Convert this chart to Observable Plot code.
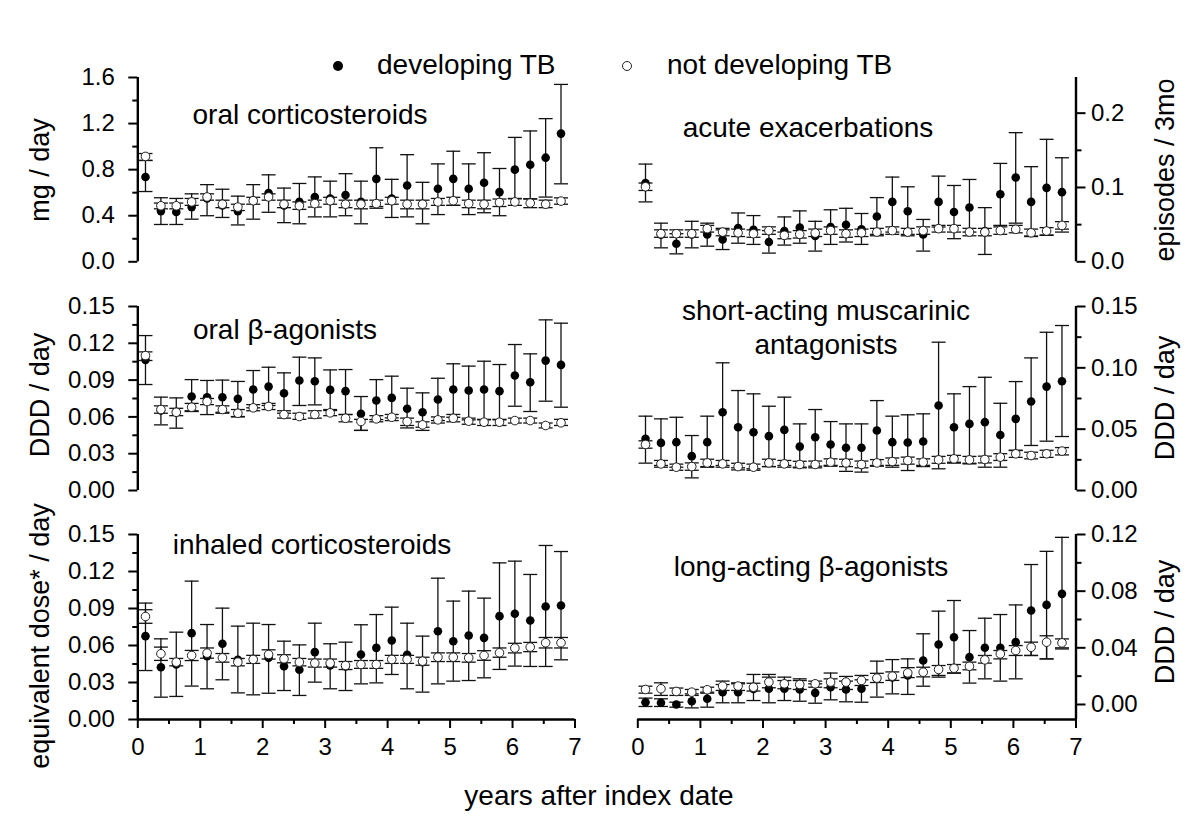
<!DOCTYPE html>
<html><head><meta charset="utf-8">
<script src="https://cdn.jsdelivr.net/npm/d3@7"></script>
<script src="https://cdn.jsdelivr.net/npm/@observablehq/plot@0.6"></script>
<style>
body{margin:0;background:#fff;}
#root{position:relative;width:1200px;height:837px;font-family:"Liberation Sans",Arial,sans-serif;color:#000;overflow:hidden;background:#fff}
.abs{position:absolute;white-space:nowrap;line-height:1}
.ttl{font-size:28px}
.ctr{transform:translateX(-50%);text-align:center}
.ylab{font-size:27px;transform:translate(-50%,-50%) rotate(-90deg)}
.pan{position:absolute}
</style></head><body><div id="root"></div><script>
// quarter (90-day) midpoints in years after index date
const xs = [0.123,0.370,0.616,0.862,1.109,1.355,1.602,1.848,2.094,2.341,2.587,2.834,3.080,3.326,3.573,3.819,4.066,4.312,4.559,4.805,5.051,5.298,5.544,5.791,6.037,6.283,6.530,6.776];
const xMajor = [0,1,2,3,4,5,6,7];
const xMinor = [0.5,1.5,2.5,3.5,4.5,5.5,6.5];

// oral corticosteroids (mg/day)
const ocsDev   = [0.736,0.44,0.432,0.475,0.55,0.49,0.44,0.53,0.597,0.49,0.52,0.563,0.55,0.58,0.52,0.72,0.55,0.663,0.50,0.634,0.72,0.634,0.686,0.605,0.80,0.843,0.904,1.113];
const ocsDevLo = [0.61,0.324,0.324,0.37,0.40,0.385,0.32,0.37,0.43,0.34,0.33,0.39,0.39,0.40,0.33,0.48,0.385,0.39,0.33,0.41,0.49,0.41,0.426,0.40,0.547,0.547,0.562,0.677];
const ocsDevHi = [0.88,0.556,0.55,0.59,0.67,0.63,0.57,0.67,0.755,0.64,0.68,0.737,0.70,0.765,0.70,0.99,0.716,0.93,0.69,0.85,0.96,0.85,0.947,0.81,1.08,1.136,1.243,1.54];
const ocsNon   = [0.915,0.486,0.486,0.52,0.563,0.50,0.475,0.53,0.563,0.50,0.486,0.505,0.53,0.50,0.50,0.505,0.53,0.50,0.50,0.52,0.53,0.505,0.50,0.515,0.52,0.51,0.50,0.527];
const ocsNonLo = [0.88,0.46,0.46,0.49,0.535,0.47,0.445,0.50,0.535,0.47,0.455,0.475,0.50,0.47,0.46,0.465,0.50,0.46,0.46,0.49,0.49,0.47,0.46,0.48,0.49,0.47,0.47,0.50];
const ocsNonHi = [0.94,0.51,0.51,0.55,0.59,0.535,0.50,0.56,0.59,0.535,0.52,0.535,0.56,0.535,0.535,0.535,0.56,0.535,0.535,0.55,0.56,0.535,0.535,0.545,0.55,0.545,0.535,0.555];

// acute exacerbations (episodes / 3mo)
const exaDev   = [0.106,0.0365,0.0243,0.0369,0.0369,0.030,0.0455,0.0432,0.0266,0.0414,0.046,0.0347,0.0468,0.0499,0.0437,0.061,0.0806,0.068,0.0369,0.0806,0.0671,0.073,0.0414,0.0909,0.1135,0.0806,0.0995,0.0937];
const exaDevLo = [0.0806,0.0188,0.0107,0.0188,0.021,0.0165,0.025,0.0234,0.0117,0.0225,0.025,0.0144,0.0234,0.0266,0.0234,0.0369,0.040,0.0369,0.0144,0.0468,0.0311,0.040,0.0099,0.049,0.052,0.0347,0.0356,0.040];
const exaDevHi = [0.1315,0.052,0.0378,0.0545,0.052,0.043,0.0657,0.0622,0.042,0.0604,0.0685,0.0545,0.070,0.072,0.065,0.0864,0.114,0.1009,0.057,0.1153,0.1027,0.1108,0.0729,0.1324,0.1738,0.128,0.1648,0.14];
const exaNon   = [0.101,0.0378,0.0378,0.0378,0.0446,0.040,0.039,0.0378,0.042,0.0356,0.037,0.0387,0.042,0.0378,0.039,0.040,0.042,0.040,0.042,0.0446,0.0446,0.040,0.040,0.042,0.0437,0.039,0.0414,0.049];
const exaNonLo = [0.096,0.033,0.033,0.033,0.040,0.035,0.034,0.033,0.037,0.031,0.032,0.034,0.037,0.033,0.034,0.035,0.037,0.035,0.037,0.040,0.040,0.035,0.035,0.037,0.039,0.034,0.036,0.044];
const exaNonHi = [0.106,0.043,0.043,0.043,0.049,0.045,0.044,0.043,0.047,0.040,0.042,0.044,0.047,0.043,0.044,0.045,0.047,0.045,0.047,0.049,0.049,0.045,0.045,0.047,0.049,0.044,0.046,0.054];

// oral beta-agonists (DDD/day)
const obaDev   = [0.1065,0.0652,0.0638,0.0766,0.076,0.076,0.0747,0.0823,0.0847,0.0793,0.0897,0.0891,0.082,0.081,0.0625,0.0734,0.0755,0.0666,0.0638,0.0742,0.0823,0.0815,0.0823,0.081,0.0937,0.0883,0.1059,0.1024];
const obaDevLo = [0.0864,0.0535,0.0508,0.0644,0.0619,0.0638,0.0603,0.0674,0.0693,0.063,0.0693,0.0698,0.0652,0.0619,0.049,0.0578,0.0592,0.053,0.0516,0.057,0.0597,0.0576,0.0576,0.0576,0.0687,0.0644,0.0728,0.0679];
const obaDevHi = [0.1263,0.0761,0.0755,0.0904,0.0897,0.090,0.0889,0.0978,0.1005,0.0959,0.1087,0.1081,0.0983,0.0986,0.0766,0.0904,0.0932,0.0834,0.0796,0.0915,0.1033,0.1014,0.1054,0.1027,0.119,0.1114,0.1391,0.1364];
const obaNon   = [0.110,0.066,0.0638,0.0679,0.0725,0.066,0.063,0.0674,0.0685,0.0619,0.0603,0.0619,0.0633,0.0589,0.0562,0.0584,0.0597,0.0562,0.0535,0.0576,0.0589,0.0565,0.0557,0.0557,0.057,0.057,0.053,0.0552];
const obaNonLo = [0.106,0.063,0.061,0.065,0.070,0.063,0.060,0.065,0.066,0.059,0.058,0.059,0.061,0.056,0.049,0.056,0.057,0.051,0.049,0.055,0.056,0.054,0.053,0.053,0.055,0.055,0.051,0.053];
const obaNonHi = [0.113,0.069,0.067,0.071,0.075,0.069,0.066,0.070,0.071,0.065,0.063,0.065,0.066,0.062,0.058,0.061,0.062,0.059,0.056,0.060,0.062,0.059,0.058,0.058,0.059,0.059,0.055,0.058];

// short-acting muscarinic antagonists (DDD/day)
const samaDev   = [0.0421,0.0388,0.0394,0.028,0.0394,0.0638,0.0516,0.0475,0.0443,0.0494,0.0358,0.0434,0.0375,0.0348,0.0348,0.0489,0.0394,0.0391,0.0399,0.0693,0.0516,0.0543,0.0557,0.0453,0.0584,0.0725,0.0847,0.0891];
const samaDevLo = [0.0223,0.0204,0.019,0.0103,0.019,0.0204,0.0185,0.0177,0.0195,0.0204,0.019,0.0198,0.0198,0.0156,0.015,0.0204,0.019,0.0163,0.0195,0.0177,0.0223,0.0217,0.019,0.019,0.0326,0.0367,0.0402,0.044];
const samaDevHi = [0.0606,0.0584,0.0597,0.0448,0.0606,0.1041,0.0815,0.0788,0.0687,0.0761,0.0543,0.066,0.0562,0.0543,0.0543,0.0733,0.0606,0.0617,0.0625,0.1209,0.0788,0.0847,0.0923,0.0711,0.0888,0.1081,0.129,0.1345];
const samaNon   = [0.0375,0.0217,0.019,0.0195,0.0225,0.0217,0.0195,0.019,0.0225,0.0217,0.0212,0.0212,0.0231,0.0225,0.0212,0.0225,0.0236,0.0244,0.0231,0.025,0.0258,0.025,0.0253,0.0272,0.0299,0.0285,0.0299,0.0321];
const samaNonLo = [0.0345,0.019,0.0165,0.0165,0.0195,0.019,0.0168,0.0165,0.0195,0.019,0.0185,0.0185,0.0205,0.0195,0.0185,0.0198,0.0205,0.0215,0.0205,0.0222,0.023,0.0222,0.0225,0.0245,0.027,0.0258,0.027,0.029];
const samaNonHi = [0.0405,0.0245,0.0215,0.0225,0.0255,0.0245,0.0222,0.0215,0.0255,0.0245,0.0238,0.024,0.0258,0.0255,0.024,0.0252,0.0265,0.0272,0.0258,0.0278,0.0286,0.0278,0.028,0.03,0.0328,0.0312,0.0328,0.035];

// inhaled corticosteroids (equivalent dose/day)
const icsDev   = [0.0676,0.0424,0.0446,0.070,0.0514,0.0614,0.0484,0.0487,0.050,0.0432,0.0403,0.0546,0.0438,0.043,0.0527,0.0581,0.0641,0.0524,0.0465,0.0716,0.0635,0.0681,0.0662,0.0838,0.0857,0.0803,0.0916,0.0924];
const icsDevLo = [0.0397,0.0181,0.0187,0.0271,0.0249,0.0322,0.0216,0.020,0.0213,0.0235,0.0195,0.0303,0.0249,0.0235,0.0289,0.0297,0.0365,0.0249,0.0222,0.0289,0.0311,0.0316,0.0338,0.0406,0.0433,0.043,0.043,0.0484];
const icsDevHi = [0.0944,0.0654,0.0708,0.1122,0.077,0.0903,0.0757,0.0781,0.077,0.0635,0.0605,0.0781,0.0614,0.0627,0.0768,0.0851,0.0911,0.0781,0.0676,0.1146,0.096,0.1041,0.0984,0.127,0.1284,0.1176,0.1411,0.1362];
const icsNon   = [0.0835,0.0533,0.0465,0.0519,0.0538,0.050,0.0465,0.0487,0.0527,0.0492,0.0465,0.0457,0.0457,0.0438,0.0446,0.0446,0.0487,0.0487,0.0473,0.0505,0.0505,0.050,0.0519,0.0541,0.0579,0.0587,0.0622,0.0622];
const icsNonLo = [0.078,0.0479,0.0435,0.0478,0.0497,0.0465,0.0435,0.0455,0.049,0.046,0.0435,0.0425,0.0425,0.0405,0.0415,0.0415,0.0455,0.0455,0.044,0.047,0.047,0.0465,0.048,0.0505,0.054,0.055,0.058,0.058];
const icsNonHi = [0.089,0.0587,0.0495,0.056,0.058,0.0535,0.0495,0.052,0.0565,0.0525,0.0495,0.049,0.049,0.047,0.0478,0.0478,0.052,0.052,0.0505,0.054,0.054,0.0535,0.0558,0.058,0.0618,0.0625,0.0665,0.0665];

// long-acting beta-agonists (DDD/day)
const labaDev   = [0.0016,0.0012,0.0000,0.0023,0.0040,0.0087,0.0087,0.011,0.0111,0.0111,0.0106,0.0082,0.0122,0.0106,0.0111,0.0182,0.019,0.0205,0.0311,0.0423,0.0475,0.0334,0.040,0.040,0.044,0.0663,0.0703,0.0781];
const labaDevLo = [-0.0014,-0.0014,-0.0019,-0.0024,-0.0019,0.0012,0.0012,0.0028,0.0012,0.0028,0.0023,0.0009,0.0033,0.0019,0.0016,0.0052,0.0075,0.0071,0.0129,0.0205,0.0223,0.0151,0.0181,0.0165,0.0181,0.0346,0.0322,0.040];
const labaDevHi = [0.0045,0.004,0.0016,0.0075,0.0087,0.0141,0.0146,0.0212,0.0193,0.0169,0.0169,0.0146,0.0181,0.0165,0.0174,0.0306,0.0317,0.0322,0.0499,0.0659,0.0734,0.0522,0.0609,0.0635,0.0703,0.0988,0.1081,0.118];
const labaNon   = [0.0106,0.0111,0.0092,0.0087,0.0104,0.013,0.013,0.0122,0.0158,0.0146,0.0141,0.0146,0.0158,0.0158,0.017,0.0186,0.020,0.0223,0.0228,0.0247,0.0256,0.027,0.0315,0.0357,0.0381,0.0404,0.044,0.0435];
const labaNonLo = [0.008,0.0064,0.0064,0.0064,0.008,0.0099,0.0099,0.0095,0.0118,0.0111,0.0106,0.0122,0.0118,0.0106,0.0134,0.0155,0.017,0.019,0.0195,0.0193,0.0221,0.0245,0.0292,0.0322,0.0346,0.0346,0.0322,0.0392];
const labaNonHi = [0.0129,0.0153,0.0116,0.0106,0.0122,0.0165,0.0153,0.015,0.0212,0.0193,0.0181,0.0165,0.0222,0.0198,0.0205,0.022,0.023,0.026,0.0263,0.0275,0.0282,0.0299,0.0346,0.0381,0.0416,0.044,0.0485,0.0463];

const rows = (v, lo, hi) => xs.map((x, i) => ({x, v: v[i], lo: lo[i], hi: hi[i]}));

const cap = {draw(ctx, size) { const w = Math.sqrt(size / Math.PI); ctx.moveTo(-w, 0); ctx.lineTo(w, 0); }};

function seriesMarks(r, open) {
  return [
    Plot.ruleX(r, {x: "x", y1: "lo", y2: "hi", stroke: "#111", strokeWidth: 1.3}),
    Plot.dot(r, {x: "x", y: "lo", symbol: cap, r: 7, fill: "none", stroke: "#111", strokeWidth: 1.3}),
    Plot.dot(r, {x: "x", y: "hi", symbol: cap, r: 7, fill: "none", stroke: "#111", strokeWidth: 1.3}),
    Plot.dot(r, {x: "x", y: "v", r: 4.3, fill: open ? "white" : "black", stroke: open ? "#222" : "none", strokeWidth: 1})
  ];
}

const panels = [
  {side: "left",  top: 60,  height: 215, mt: 17, mb: 13.7, dom: [0, 1.6],     major: [0,0.4,0.8,1.2,1.6], minor: [0.2,0.6,1.0,1.4], fmt: ".1f",
   dev: [ocsDev, ocsDevLo, ocsDevHi], non: [ocsNon, ocsNonLo, ocsNonHi]},
  {side: "right", top: 60,  height: 215, mt: 17, mb: 13.7, dom: [0, 0.248],   major: [0,0.1,0.2], minor: [0.05,0.15], fmt: ".1f",
   dev: [exaDev, exaDevLo, exaDevHi], non: [exaNon, exaNonLo, exaNonHi]},
  {side: "left",  top: 290, height: 215, mt: 16, mb: 15, dom: [0, 0.15],      major: [0,0.03,0.06,0.09,0.12,0.15], minor: [0.015,0.045,0.075,0.105,0.135], fmt: ".2f",
   dev: [obaDev, obaDevLo, obaDevHi], non: [obaNon, obaNonLo, obaNonHi]},
  {side: "right", top: 290, height: 215, mt: 16, mb: 15, dom: [0, 0.15],      major: [0,0.05,0.10,0.15], minor: [0.025,0.075,0.125], fmt: ".2f",
   dev: [samaDev, samaDevLo, samaDevHi], non: [samaNon, samaNonLo, samaNonHi]},
  {side: "left",  top: 520, height: 250, mt: 14, mb: 51, dom: [0, 0.15],      major: [0,0.03,0.06,0.09,0.12,0.15], minor: [0.015,0.045,0.075,0.105,0.135], fmt: ".2f", bottom: true,
   dev: [icsDev, icsDevLo, icsDevHi], non: [icsNon, icsNonLo, icsNonHi]},
  {side: "right", top: 520, height: 250, mt: 14, mb: 51, dom: [-0.0106, 0.12], major: [0,0.04,0.08,0.12], minor: [0.02,0.06,0.10], fmt: ".2f", bottom: true,
   dev: [labaDev, labaDevLo, labaDevHi], non: [labaNon, labaNonLo, labaNonHi]}
];

const root = document.getElementById("root");

for (const p of panels) {
  const left = p.side === "left";
  const marks = [
    Plot.axisY(p.minor, {anchor: left ? "left" : "right", tickSize: 5, strokeWidth: 2, tickFormat: () => "", label: null}),
    Plot.axisY(p.major, {anchor: left ? "left" : "right", tickSize: 9, tickPadding: left ? 14 : 6, strokeWidth: 2, fontSize: 24, tickFormat: d3.format(p.fmt), label: null}),
    Plot.ruleX([left ? 0 : 7], {strokeWidth: 2.4, stroke: "black"})
  ];
  if (p.bottom) {
    marks.push(
      Plot.ruleY([p.dom[0]], {strokeWidth: 2.4, stroke: "black"}),
      Plot.axisX(xMinor, {tickSize: 5, strokeWidth: 2, tickFormat: () => "", label: null}),
      Plot.axisX(xMajor, {tickSize: 9, tickPadding: 9, strokeWidth: 2, fontSize: 24, tickFormat: d3.format("d"), label: null})
    );
  }
  marks.push(...seriesMarks(rows(...p.dev), false), ...seriesMarks(rows(...p.non), true));
  const chart = Plot.plot({
    width: 600, height: p.height,
    marginTop: p.mt, marginBottom: p.mb,
    marginLeft: left ? 137.3 : 37.3, marginRight: left ? 25.5 : 124.5,
    x: {domain: [0, 7], axis: p.bottom ? undefined : null},
    y: {domain: p.dom},
    style: {fontFamily: "Liberation Sans, Arial, sans-serif", fontSize: "24px", color: "black", background: "transparent", overflow: "visible"},
    marks
  });
  chart.classList.add("pan");
  chart.style.left = (left ? 0 : 600) + "px";
  chart.style.top = p.top + "px";
  root.appendChild(chart);
}

// text overlays
function addText(html, cls, css) {
  const d = document.createElement("div");
  d.className = "abs " + cls;
  d.innerHTML = html;
  Object.assign(d.style, css);
  root.appendChild(d);
}
addText("oral corticosteroids", "ttl ctr", {left: "310px", top: "101px"});
addText("acute exacerbations", "ttl ctr", {left: "808px", top: "114px"});
addText("oral &beta;-agonists", "ttl ctr", {left: "285px", top: "316px"});
addText("short-acting muscarinic<br>antagonists", "ttl ctr", {left: "826px", top: "294px", lineHeight: "34px"});
addText("inhaled corticosteroids", "ttl ctr", {left: "312px", top: "531px"});
addText("long-acting &beta;-agonists", "ttl ctr", {left: "811px", top: "553px"});
addText("years after index date", "ttl ctr", {left: "599px", top: "782px"});

addText("mg / day", "ylab", {left: "40px", top: "170px"});
addText("DDD / day", "ylab", {left: "40px", top: "395px"});
addText("equivalent dose* / day", "ylab", {left: "40px", top: "636px"});
addText("episodes / 3mo", "ylab", {left: "1165px", top: "170px"});
addText("DDD / day", "ylab", {left: "1165px", top: "398px"});
addText("DDD / day", "ylab", {left: "1165px", top: "622px"});

// legend
addText("developing TB", "ttl", {left: "377px", top: "51px"});
addText("not developing TB", "ttl", {left: "667px", top: "51px"});
addText("", "", {left: "333px", top: "61px", width: "10px", height: "10px", borderRadius: "50%", background: "black"});
addText("", "", {left: "622px", top: "61px", width: "8px", height: "8px", borderRadius: "50%", background: "white", border: "1px solid #222"});
</script></body></html>
